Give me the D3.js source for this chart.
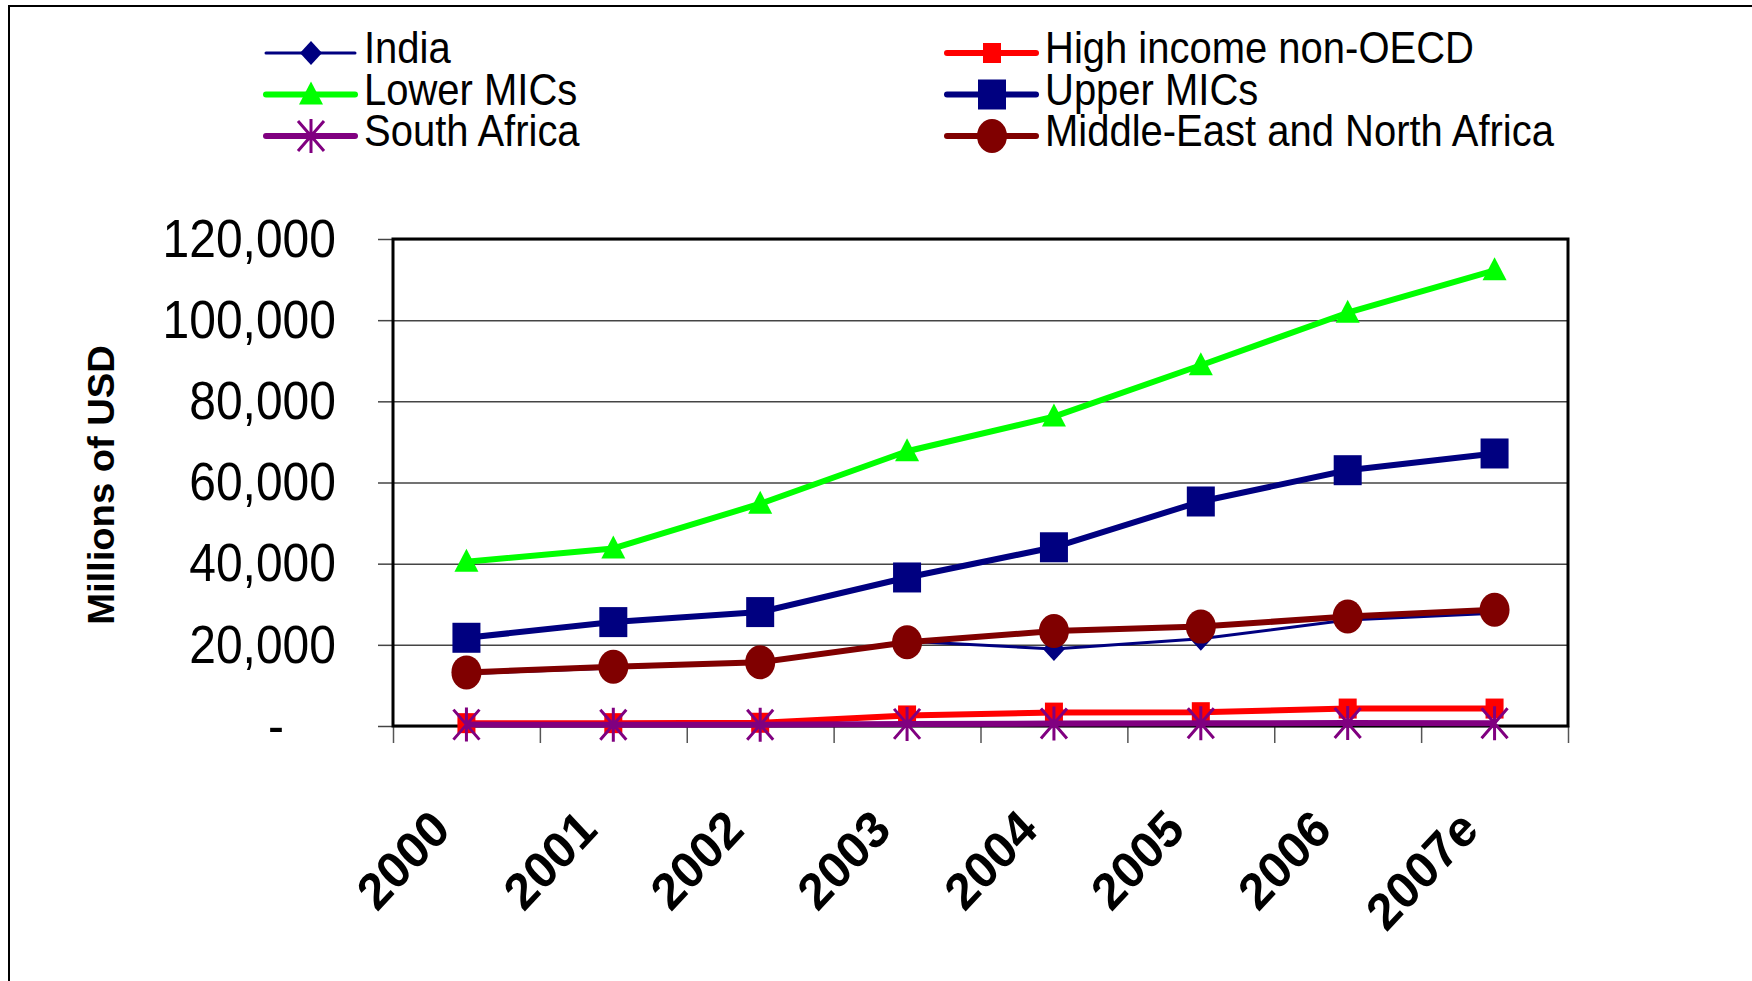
<!DOCTYPE html>
<html>
<head>
<meta charset="utf-8">
<script src="https://d3js.org/d3.v7.min.js"></script>
<style>
body { margin: 0; background: #fff; }
text { font-family: "Liberation Sans", Arial, sans-serif; fill: #000; }
</style>
</head>
<body>
<svg width="1752" height="981"></svg>
<script>
// data (millions of USD)
const years = ["2000", "2001", "2002", "2003", "2004", "2005", "2006", "2007e"];
const india = [12900, 14300, 15700, 20900, 19000, 21500, 26100, 27800];
const highIncome = [700, 700, 800, 2600, 3300, 3400, 4300, 4300];
const lowerMICs = [40450, 43760, 54770, 67700, 76240, 88900, 101830, 112290];
const upperMICs = [21740, 25600, 28070, 36600, 44040, 55320, 63030, 67150];
const southAfrica = [340, 300, 290, 520, 600, 660, 730, 700];
const mena = [13210, 14590, 15690, 20640, 23390, 24490, 26970, 28620];
const yTicks = [0, 20000, 40000, 60000, 80000, 100000, 120000];

const series = [
  {name: "India", values: india, color: "#000080", width: 3, marker: "diamond"},
  {name: "High income non-OECD", values: highIncome, color: "#ff0000", width: 6, marker: "smallsquare"},
  {name: "Lower MICs", values: lowerMICs, color: "#00ff00", width: 6, marker: "triangle"},
  {name: "Upper MICs", values: upperMICs, color: "#000080", width: 6, marker: "square"},
  {name: "South Africa", values: southAfrica, color: "#800080", width: 6, marker: "star"},
  {name: "Middle-East and North Africa", values: mena, color: "#800000", width: 6, marker: "circle"}
];

const svg = d3.select("svg");
const pLeft = 393, pRight = 1568, pTop = 239, pBottom = 726;

// outer frame
svg.append("rect").attr("x", 9).attr("y", 6).attr("width", 1800).attr("height", 1100)
  .attr("fill", "none").attr("stroke", "#000").attr("stroke-width", 2);

const x = d3.scaleBand().domain(years).range([pLeft, pRight]).paddingInner(0).paddingOuter(0);
const xb = d3.scaleLinear().domain([0, years.length]).range([pLeft, pRight]);
const y = d3.scaleLinear().domain([0, 120000]).range([pBottom, pTop]);
const cx = d => x(d) + x.bandwidth() / 2;

// gridlines
svg.append("g").attr("transform", "translate(" + pLeft + ",0)")
  .call(d3.axisLeft(y).tickValues(yTicks).tickSize(-(pRight - pLeft)).tickFormat(""))
  .call(g => g.select(".domain").remove())
  .call(g => g.selectAll("line").attr("stroke", "#444").attr("stroke-width", 1.5));

// y axis ticks and labels
const yAxis = svg.append("g").attr("transform", "translate(" + pLeft + ",0)")
  .call(d3.axisLeft(y).tickValues(yTicks).tickSize(15).tickPadding(42)
    .tickFormat(d => d === 0 ? "-" : d3.format(",")(d)));
yAxis.select(".domain").remove();
yAxis.selectAll("line").attr("stroke", "#444").attr("stroke-width", 1.5);
yAxis.selectAll("text").attr("font-size", 48).attr("fill", "#000")
  .attr("font-family", "'Liberation Sans', Arial, sans-serif")
  .attr("transform", "scale(1,1.12)")
  .filter(d => d === 0).attr("x", -109);

// x axis ticks at category boundaries
const xAxis = svg.append("g").attr("transform", "translate(0," + pBottom + ")")
  .call(d3.axisBottom(xb).tickValues(d3.range(years.length + 1)).tickSize(17).tickFormat(""));
xAxis.select(".domain").remove();
xAxis.selectAll("line").attr("stroke", "#555").attr("stroke-width", 1.5);

// x labels
svg.append("g").selectAll("text").data(years).enter().append("text")
  .attr("transform", d => "translate(" + (cx(d) - 14) + ",832) scale(1,1.07) rotate(-45)")
  .attr("text-anchor", "end").attr("font-size", 48).attr("font-weight", "bold")
  .text(d => d);

// plot border
svg.append("rect").attr("x", pLeft).attr("y", pTop).attr("width", pRight - pLeft).attr("height", pBottom - pTop)
  .attr("fill", "none").attr("stroke", "#000").attr("stroke-width", 3);

// y title
svg.append("text").attr("transform", "translate(114,485) scale(1,1.06) rotate(-90)")
  .attr("text-anchor", "middle").attr("font-size", 36).attr("font-weight", "bold")
  .text("Millions of USD");

function marker(g, type, color) {
  if (type === "diamond") g.append("path").attr("d", "M0,-12L11,0L0,12L-11,0Z").attr("fill", color);
  else if (type === "triangle") g.append("path").attr("d", "M0,-13L12,10L-12,10Z").attr("fill", color);
  else if (type === "square") g.append("rect").attr("x", -14).attr("y", -15).attr("width", 28).attr("height", 30).attr("fill", color);
  else if (type === "smallsquare") g.append("rect").attr("x", -9).attr("y", -10).attr("width", 18).attr("height", 20).attr("fill", color);
  else if (type === "circle") g.append("ellipse").attr("rx", 15).attr("ry", 17).attr("fill", color);
  else if (type === "star") g.append("path").attr("d", "M0,-17L0,17M-13,-15L13,15M13,-15L-13,15")
    .attr("stroke", color).attr("stroke-width", 3).attr("fill", "none");
}

const line = d3.line().x((v, i) => cx(years[i])).y(v => y(v));

series.forEach(s => {
  const g = svg.append("g");
  g.append("path").attr("d", line(s.values)).attr("fill", "none")
    .attr("stroke", s.color).attr("stroke-width", s.width).attr("stroke-linejoin", "round");
  s.values.forEach((v, i) => {
    marker(g.append("g").attr("transform", "translate(" + cx(years[i]) + "," + y(v) + ")"), s.marker, s.color);
  });
});

// legend
const legendOrder = [["India", "Lower MICs", "South Africa"],
  ["High income non-OECD", "Upper MICs", "Middle-East and North Africa"]];
const colX = [266, 947];
const rowY = [53, 94.5, 136];
legendOrder.forEach((col, ci) => {
  col.forEach((name, ri) => {
    const s = series.find(d => d.name === name);
    const g = svg.append("g").attr("transform", "translate(" + colX[ci] + "," + rowY[ri] + ")");
    g.append("line").attr("x1", 0).attr("x2", 89).attr("stroke", s.color)
      .attr("stroke-width", s.width).attr("stroke-linecap", "round");
    marker(g.append("g").attr("transform", "translate(45,0)"), s.marker, s.color);
    g.append("text").attr("transform", "translate(98,10) scale(1,1.12)")
      .attr("font-size", 40).text(name);
  });
});
</script>
</body>
</html>
